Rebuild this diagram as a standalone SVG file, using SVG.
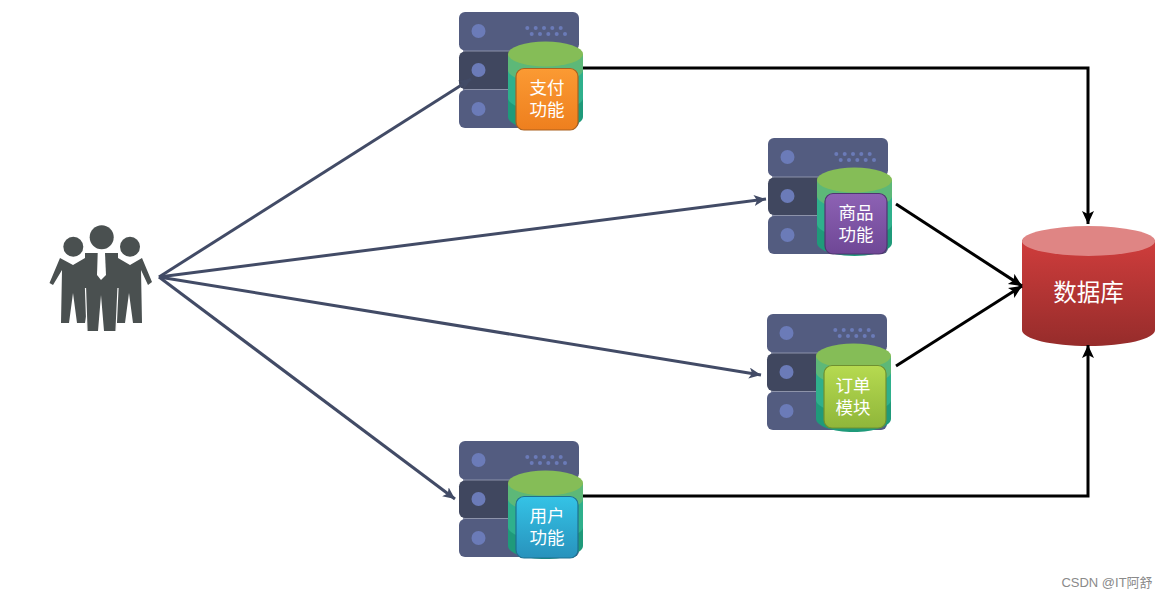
<svg xmlns="http://www.w3.org/2000/svg" xmlns:xlink="http://www.w3.org/1999/xlink" width="1167" height="598" viewBox="0 0 1167 598">
<style>
text{font-family:"Liberation Sans","Noto Sans CJK SC",sans-serif;fill:#fff;text-anchor:middle}
.lbl{font-size:17.500px}
.blue{fill:none;stroke:#424b66;stroke-width:3}
.blk{fill:none;stroke:#000;stroke-width:3}
.person{fill:#4a5050}
</style>
<defs>
<marker id="ab" markerUnits="userSpaceOnUse" markerWidth="15" markerHeight="12" refX="12" refY="5.500" orient="auto"><path d="M0 0L12 5.500L0 11L3 5.500Z" fill="#424b66"/></marker>
<marker id="ak" markerUnits="userSpaceOnUse" markerWidth="16" markerHeight="14" refX="13" refY="6" orient="auto"><path d="M0 0L13 6L0 12L3 6Z" fill="#000"/></marker>
<linearGradient id="db" x1="0" y1="0" x2="0" y2="1"><stop offset="0" stop-color="#cf3d3c"/><stop offset="1" stop-color="#962c2b"/></linearGradient>
<linearGradient id="or" x1="0" y1="0" x2="0" y2="1"><stop offset="0" stop-color="#fb9a33"/><stop offset="1" stop-color="#ee7f1e"/></linearGradient>
<linearGradient id="pu" x1="0" y1="0" x2="0" y2="1"><stop offset="0" stop-color="#8d62b4"/><stop offset="1" stop-color="#6f4796"/></linearGradient>
<linearGradient id="gr" x1="0" y1="0" x2="0" y2="1"><stop offset="0" stop-color="#b6da50"/><stop offset="1" stop-color="#8fb63a"/></linearGradient>
<linearGradient id="bl" x1="0" y1="0" x2="0" y2="1"><stop offset="0" stop-color="#34c3e6"/><stop offset="1" stop-color="#2892bc"/></linearGradient>
<g id="dots" fill="#6b7bb8">
<circle cx="68.300" cy="16" r="2"/><circle cx="76.700" cy="16" r="2"/><circle cx="85" cy="16" r="2"/><circle cx="93.300" cy="16" r="2"/><circle cx="101.700" cy="16" r="2"/>
<circle cx="72.700" cy="22" r="2"/><circle cx="81" cy="22" r="2"/><circle cx="89.300" cy="22" r="2"/><circle cx="97.700" cy="22" r="2"/><circle cx="106" cy="22" r="2"/>
</g>
<g id="server">
<rect x="4" y="30" width="112" height="60" fill="#8d93aa"/>
<rect x="0" y="0" width="120" height="38.500" rx="6" fill="#535c80"/>
<rect x="0" y="39.500" width="120" height="37.500" rx="6" fill="#40475f"/>
<rect x="0" y="78" width="120" height="38" rx="6" fill="#535c80"/>
<circle cx="19.500" cy="19" r="7" fill="#6b7bb8"/><circle cx="19.500" cy="58" r="7" fill="#6b7bb8"/><circle cx="19.500" cy="97" r="7" fill="#6b7bb8"/>
<use xlink:href="#dots" href="#dots"/>
<path d="M49 42V105C49 112 66 118 86.500 118S124 112 124 105V42Z" fill="#1f9a7a"/>
<path d="M49 42V86C49 93 66 99 86.500 99S124 93 124 86V42Z" fill="#2fb08c"/>
<path d="M49 42V58C49 65 66 71 86.500 71S124 65 124 58V42Z" fill="#5db878"/>
<ellipse cx="86.500" cy="42" rx="37.500" ry="12.500" fill="#85bd57"/>
</g>
</defs>

<g id="users" class="person">
<circle cx="73.300" cy="246.700" r="10"/><circle cx="130" cy="246.700" r="10"/><circle cx="101.700" cy="237.300" r="12"/>
<path d="M60 258L73 265L85 258L90 290L85 323H77L73 293L69 323H61L62 270L53 285L49.500 283Z"/>
<path d="M142 258L130 265L118 258L113 290L117 323H125L129 293L133 323H142L141 270L148 285L152 282Z"/>
<path d="M85 253H118L118 288L116 331H104L101 295L98 331H87L85 288Z"/>
<path d="M85.500 288L87 331M118 288L116 331" stroke="#fff" stroke-width="1.200" fill="none"/>
<path d="M97.700 253H105L106 275L101 280L97 275Z" fill="#fff"/>
</g>

<g id="node-pay"><use xlink:href="#server" href="#server" x="459" y="12"/>
<rect x="516" y="68.500" width="62" height="61.500" rx="8" fill="url(#or)" stroke="#a9611f" stroke-width="1.200"/>
<text class="lbl" x="547"><tspan x="547" y="94">支付</tspan><tspan x="547" y="116">功能</tspan></text></g>

<g id="node-goods"><use xlink:href="#server" href="#server" x="768" y="138"/>
<rect x="825" y="193.500" width="62" height="60.500" rx="8" fill="url(#pu)" stroke="#4f3570" stroke-width="1.200"/>
<text class="lbl" x="856"><tspan x="856" y="219">商品</tspan><tspan x="856" y="241">功能</tspan></text></g>

<g id="node-order"><use xlink:href="#server" href="#server" x="767" y="314"/>
<rect x="824" y="365.500" width="62" height="62.500" rx="8" fill="url(#gr)" stroke="#6f9030" stroke-width="1.200"/>
<text class="lbl" x="853"><tspan x="853" y="392">订单</tspan><tspan x="853" y="414">模块</tspan></text></g>

<g id="node-user"><use xlink:href="#server" href="#server" x="459" y="441"/>
<rect x="516" y="496.500" width="62" height="61.500" rx="8" fill="url(#bl)" stroke="#1f7090" stroke-width="1.200"/>
<text class="lbl" x="547"><tspan x="547" y="522">用户</tspan><tspan x="547" y="544">功能</tspan></text></g>

<g id="node-db">
<path d="M1022 240V330C1022 339 1052 346 1088.500 346S1155 339 1155 330V240Z" fill="url(#db)"/>
<ellipse cx="1088.500" cy="241" rx="66.500" ry="15" fill="#df8584"/>
<text x="1088.500" y="301" font-size="23.500">数据库</text>
</g>

<g id="connectors">
<path class="blue" d="M159 277L471 79" marker-end="url(#ab)"/>
<path class="blue" d="M159 277L766 199" marker-end="url(#ab)"/>
<path class="blue" d="M159 277L761 375" marker-end="url(#ab)"/>
<path class="blue" d="M159 277L455 499" marker-end="url(#ab)"/>
<path class="blk" d="M583 68H1088V224" marker-end="url(#ak)"/>
<path class="blk" d="M583 496H1088V345" marker-end="url(#ak)"/>
<path class="blk" d="M896 204L1022 286" marker-end="url(#ak)"/>
<path class="blk" d="M896 366L1022 286" marker-end="url(#ak)"/>
</g>

<text x="1107" y="587" font-size="13" style="fill:#8a8a8a">CSDN @IT阿舒</text>
</svg>
